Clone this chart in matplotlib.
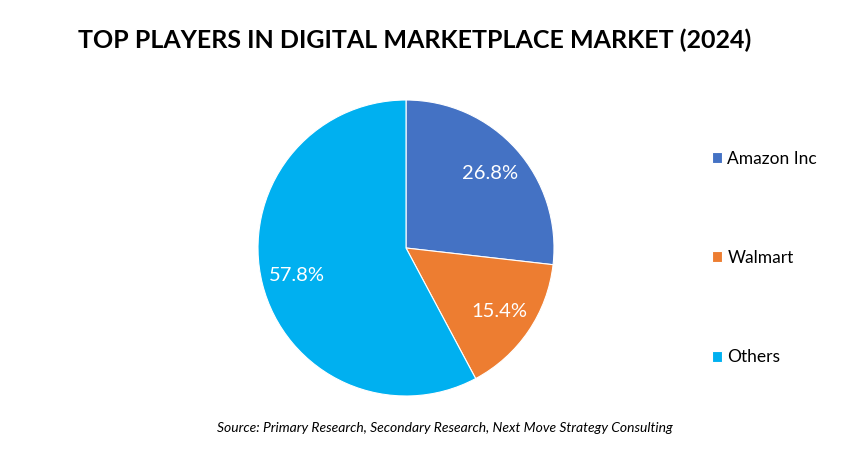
import matplotlib.pyplot as plt

plt.rcParams['font.family'] = ['Lato', 'DejaVu Sans']

players = ['Amazon Inc', 'Walmart', 'Others']
shares = [26.8, 15.4, 57.8]
colors = ['#4472C4', '#ED7D31', '#00B0F0']

title = 'TOP PLAYERS IN DIGITAL MARKETPLACE MARKET (2024)'
source = 'Source: Primary Research, Secondary Research, Next Move Strategy Consulting'

W, H = 868, 461
fig = plt.figure(figsize=(W / 100, H / 100), dpi=100)

# pie placed in pixel coords: centre (406, 248), radius 148
cx, cy, r = 406, 248, 148
ax = fig.add_axes([(cx - r) / W, (H - cy - r) / H, 2 * r / W, 2 * r / H])

wedges, texts, autotexts = ax.pie(
    shares, colors=colors, startangle=90, counterclock=False,
    autopct='%.1f%%', pctdistance=0.76,
    wedgeprops={'linewidth': 0.8, 'edgecolor': 'white'},
    textprops={'color': 'white', 'fontsize': 14.5})
ax.set_xlim(-1, 1)
ax.set_ylim(-1, 1)
ax.set_aspect('equal')

fig.text(415 / W, 1 - 40 / H, title, ha='center', va='center',
         fontsize=18, fontweight='bold', color='black')
fig.text(445 / W, 1 - 428 / H, source, ha='center', va='center',
         fontsize=10, style='italic', color='black')

leg = fig.legend(wedges, players, loc='center left',
                 bbox_to_anchor=(696 / W, 1 - 258 / H),
                 frameon=False, fontsize=12.5, handlelength=0.6, handleheight=0.6,
                 handletextpad=0.3, labelspacing=4.8)

fig.savefig('out.png', dpi=100)
